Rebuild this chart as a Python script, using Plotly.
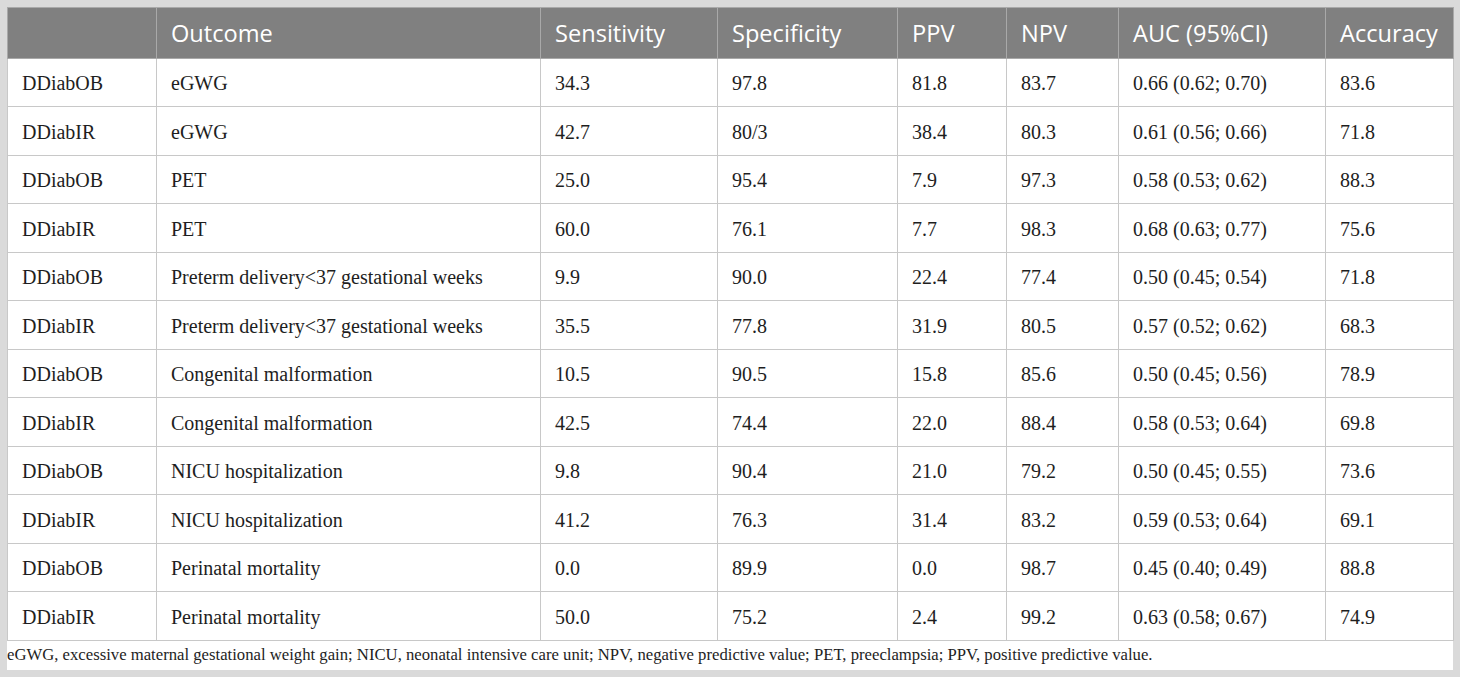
import plotly.graph_objects as go

W, H = 1460, 677

headers = ["", "Outcome", "Sensitivity", "Specificity", "PPV", "NPV", "AUC (95%CI)", "Accuracy"]

models = ["DDiabOB", "DDiabIR"] * 6
outcomes = ["eGWG", "eGWG", "PET", "PET",
            "Preterm delivery&lt;37 gestational weeks", "Preterm delivery&lt;37 gestational weeks",
            "Congenital malformation", "Congenital malformation",
            "NICU hospitalization", "NICU hospitalization",
            "Perinatal mortality", "Perinatal mortality"]
sensitivity = ["34.3", "42.7", "25.0", "60.0", "9.9", "35.5", "10.5", "42.5", "9.8", "41.2", "0.0", "50.0"]
specificity = ["97.8", "80/3", "95.4", "76.1", "90.0", "77.8", "90.5", "74.4", "90.4", "76.3", "89.9", "75.2"]
ppv = ["81.8", "38.4", "7.9", "7.7", "22.4", "31.9", "15.8", "22.0", "21.0", "31.4", "0.0", "2.4"]
npv = ["83.7", "80.3", "97.3", "98.3", "77.4", "80.5", "85.6", "88.4", "79.2", "83.2", "98.7", "99.2"]
auc = ["0.66 (0.62; 0.70)", "0.61 (0.56; 0.66)", "0.58 (0.53; 0.62)", "0.68 (0.63; 0.77)",
       "0.50 (0.45; 0.54)", "0.57 (0.52; 0.62)", "0.50 (0.45; 0.56)", "0.58 (0.53; 0.64)",
       "0.50 (0.45; 0.55)", "0.59 (0.53; 0.64)", "0.45 (0.40; 0.49)", "0.63 (0.58; 0.67)"]
accuracy = ["83.6", "71.8", "88.3", "75.6", "71.8", "68.3", "78.9", "69.8", "73.6", "69.1", "88.8", "74.9"]

footnote = ("eGWG, excessive maternal gestational weight gain; NICU, neonatal intensive care unit; "
            "NPV, negative predictive value; PET, preeclampsia; PPV, positive predictive value.")

col_widths = [149, 384, 177, 180, 109, 112, 207, 128]
columns = [models, outcomes, sensitivity, specificity, ppv, npv, auc, accuracy]

# pixel frame of the table
left, right, top, bottom = 7, 1453, 7, 640
foot_bottom = 670
head_h, row_h = 51, 48.5
# plotly pins cell text to the top of the cell; see-through copies of the table
# carry the text, nudged down/right so it sits like the original
dx = 7
dy_head, dy_body = 9, 6

HEAD_FONT = dict(family="Open Sans", size=23.6, color="white")
CELL_FONT = dict(family="Liberation Serif", size=20, color="#1e1e1e")
CLEAR = "rgba(0,0,0,0)"


def ydom(t, b):
    return [max(0, 1 - b / H), 1 - t / H]


def marked(vals):
    # every cell goes through plotly's markup path, so the "<37" cells line up with the rest
    return ["<span>%s</span>" % v for v in vals]


def blank(vals):
    return [""] * len(vals)


# grid: fills and rules only
grid = go.Table(
    columnwidth=col_widths,
    header=dict(values=blank(headers), fill_color="#808080", line_color="#a9a9a9",
                height=head_h),
    cells=dict(values=[blank(c) for c in columns], fill_color="white",
               line_color="#c8c8c8", height=row_h),
    domain=dict(x=[left / W, right / W], y=ydom(top, bottom + 2)),
)

x_text = [(left + dx) / W, (right + dx) / W]

# header text
head_text = go.Table(
    columnwidth=col_widths,
    header=dict(values=headers, fill_color=CLEAR, line_color=CLEAR, height=head_h,
                align="left", font=HEAD_FONT),
    domain=dict(x=x_text, y=ydom(top + dy_head, top + dy_head + head_h + 4)),
)

# body text
body_text = go.Table(
    columnwidth=col_widths,
    header=dict(values=blank(headers), fill_color=CLEAR, line_color=CLEAR, height=head_h),
    cells=dict(values=[marked(c) for c in columns], fill_color=CLEAR, line_color=CLEAR,
               height=row_h, align="left", font=CELL_FONT),
    domain=dict(x=x_text, y=ydom(top + dy_body, bottom + dy_body + 2)),
)

fig = go.Figure([grid, head_text, body_text])

# white footnote strip under the table
fig.add_shape(type="rect", xref="paper", yref="paper",
              x0=left / W, x1=right / W, y0=1 - foot_bottom / H, y1=1 - bottom / H,
              fillcolor="white", line_width=0, layer="below")
fig.add_annotation(xref="paper", yref="paper", x=(left - 2) / W, y=1 - (bottom + foot_bottom - 1) / 2 / H,
                   xanchor="left", yanchor="middle", showarrow=False, text=footnote,
                   font=dict(family="Liberation Serif", size=16.7, color="#1e1e1e"))

fig.update_layout(
    width=W, height=H,
    margin=dict(l=0, r=0, t=0, b=0),
    paper_bgcolor="#dadada",
)

# drop the browser's default 8px body margin so the figure fills the window
fig.write_html("out.html", config={"displayModeBar": False},
               post_script="document.body.style.margin='0';")
